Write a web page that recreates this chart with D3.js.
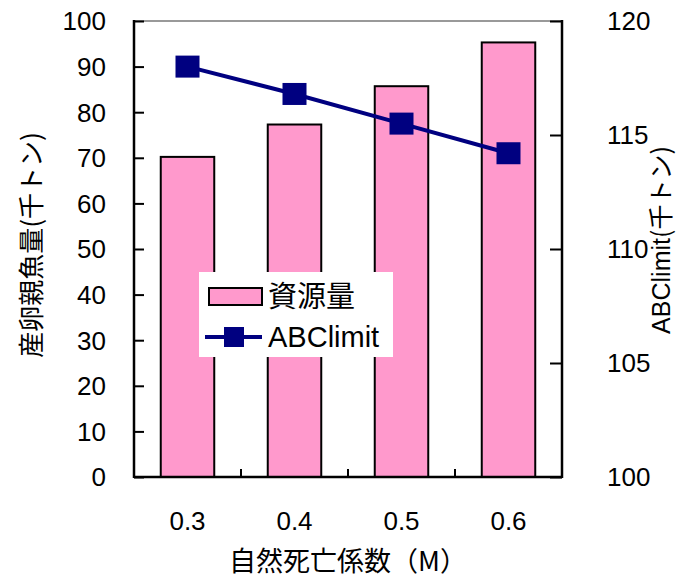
<!DOCTYPE html>
<html>
<head>
<meta charset="utf-8">
<script src="https://cdn.jsdelivr.net/npm/d3@7"></script>
<style>
  html, body { margin: 0; padding: 0; background: #fff; }
  svg { display: block; }
  text { font-family: "Liberation Sans", Arial, "Noto Sans CJK JP", sans-serif; fill: #000; }
  .jp { font-family: "Noto Sans CJK JP", sans-serif; }
</style>
</head>
<body>
<svg id="chart" width="679" height="580"></svg>
<script>
// Natural mortality coefficient M and the corresponding estimates
const categories = ["0.3", "0.4", "0.5", "0.6"];
const spawningStock = [70.2, 77.3, 85.7, 95.3];   // 資源量 (千トン), left axis
const abcLimit = [118.0, 116.8, 115.5, 114.2];     // ABClimit (千トン), right axis
const leftTicks = [0, 10, 20, 30, 40, 50, 60, 70, 80, 90, 100];
const rightTicks = [100, 105, 110, 115, 120];

const svg = d3.select("#chart");
const margin = { left: 134, right: 117, top: 21, bottom: 103 };
const W = 679, H = 580;
const x0 = margin.left, x1 = W - margin.right;
const y0 = H - margin.bottom, y1 = margin.top;

const x = d3.scaleBand().domain(categories).range([x0, x1]).paddingInner(0).paddingOuter(0);
const yL = d3.scaleLinear().domain([0, 100]).range([y0, y1]);
const yR = d3.scaleLinear().domain([100, 120]).range([y0, y1]);

// top frame line
svg.append("line").attr("x1", x0).attr("x2", x1).attr("y1", y1).attr("y2", y1)
  .attr("stroke", "#999").attr("stroke-width", 2);

// bars
const barW = x.bandwidth() * 0.5;
svg.append("g").selectAll("rect").data(spawningStock).join("rect")
  .attr("x", (d, i) => x(categories[i]) + (x.bandwidth() - barW) / 2)
  .attr("y", d => yL(d))
  .attr("width", barW)
  .attr("height", d => y0 - yL(d))
  .attr("fill", "#FF99CC")
  .attr("stroke", "#000")
  .attr("stroke-width", 2);

// left axis, ticks pointing inward
const gL = svg.append("g").attr("transform", `translate(${x0},0)`)
  .call(d3.axisRight(yL).tickValues(leftTicks).tickSize(10).tickFormat(""));
gL.select(".domain").remove();
gL.selectAll(".tick line").attr("stroke", "#000").attr("stroke-width", 2);
svg.append("line").attr("x1", x0).attr("x2", x0).attr("y1", y1 - 1).attr("y2", y0 + 1)
  .attr("stroke", "#000").attr("stroke-width", 2.5);
svg.append("g").selectAll("text").data(leftTicks).join("text")
  .attr("x", x0 - 28).attr("y", d => yL(d)).attr("dy", "0.36em")
  .attr("text-anchor", "end").attr("font-size", 26).text(d => d);

// right axis, ticks pointing inward
const gR = svg.append("g").attr("transform", `translate(${x1},0)`)
  .call(d3.axisLeft(yR).tickValues(rightTicks).tickSize(12).tickFormat(""));
gR.select(".domain").remove();
gR.selectAll(".tick line").attr("stroke", "#000").attr("stroke-width", 2);
svg.append("line").attr("x1", x1).attr("x2", x1).attr("y1", y1 - 1).attr("y2", y0 + 1)
  .attr("stroke", "#000").attr("stroke-width", 2.5);
svg.append("g").selectAll("text").data(rightTicks).join("text")
  .attr("x", x1 + 45).attr("y", d => yR(d)).attr("dy", "0.36em")
  .attr("text-anchor", "start").attr("font-size", 26).text(d => d);

// bottom axis with ticks at category boundaries
svg.append("line").attr("x1", x0).attr("x2", x1).attr("y1", y0).attr("y2", y0)
  .attr("stroke", "#000").attr("stroke-width", 2.5);
svg.append("g").selectAll("line").data(categories.slice(1)).join("line")
  .attr("x1", d => x(d)).attr("x2", d => x(d))
  .attr("y1", y0).attr("y2", y0 - 8)
  .attr("stroke", "#000").attr("stroke-width", 2);
svg.append("g").selectAll("text").data(categories).join("text")
  .attr("x", d => x(d) + x.bandwidth() / 2).attr("y", y0 + 53)
  .attr("text-anchor", "middle").attr("font-size", 26).text(d => d);

// ABClimit line and markers
const line = d3.line()
  .x((d, i) => x(categories[i]) + x.bandwidth() / 2)
  .y(d => yR(d));
svg.append("path").datum(abcLimit).attr("d", line)
  .attr("fill", "none").attr("stroke", "#000080").attr("stroke-width", 4);
const mk = 24;
svg.append("g").selectAll("rect").data(abcLimit).join("rect")
  .attr("x", (d, i) => x(categories[i]) + x.bandwidth() / 2 - mk / 2)
  .attr("y", d => yR(d) - 11)
  .attr("width", mk).attr("height", 22)
  .attr("fill", "#000080");

// legend
const lg = svg.append("g");
lg.append("rect").attr("x", 199).attr("y", 272).attr("width", 194).attr("height", 85).attr("fill", "#fff");
lg.append("rect").attr("x", 209).attr("y", 288).attr("width", 53).attr("height", 17)
  .attr("fill", "#FF99CC").attr("stroke", "#000").attr("stroke-width", 2);
lg.append("text").attr("class", "jp").attr("x", 268).attr("y", 307).attr("font-size", 29).text("資源量");
lg.append("line").attr("x1", 205).attr("x2", 262).attr("y1", 337).attr("y2", 337)
  .attr("stroke", "#000080").attr("stroke-width", 4);
lg.append("rect").attr("x", 224).attr("y", 327).attr("width", 20).attr("height", 20).attr("fill", "#000080");
lg.append("text").attr("x", 268).attr("y", 347).attr("font-size", 29).text("ABClimit");

// axis titles
svg.append("text").attr("class", "jp")
  .attr("transform", `translate(41,245) rotate(-90)`)
  .attr("text-anchor", "middle").attr("font-size", 26).text("産卵親魚量(千トン)");
svg.append("text")
  .attr("transform", `translate(670,240) rotate(-90)`)
  .attr("text-anchor", "middle").attr("font-size", 25)
  .html('ABClimit<tspan class="jp">(千トン)</tspan>');
svg.append("text").attr("class", "jp")
  .attr("x", (x0 + x1) / 2).attr("y", 571)
  .attr("text-anchor", "middle").attr("font-size", 27).text("自然死亡係数（M）");
</script>
</body>
</html>
